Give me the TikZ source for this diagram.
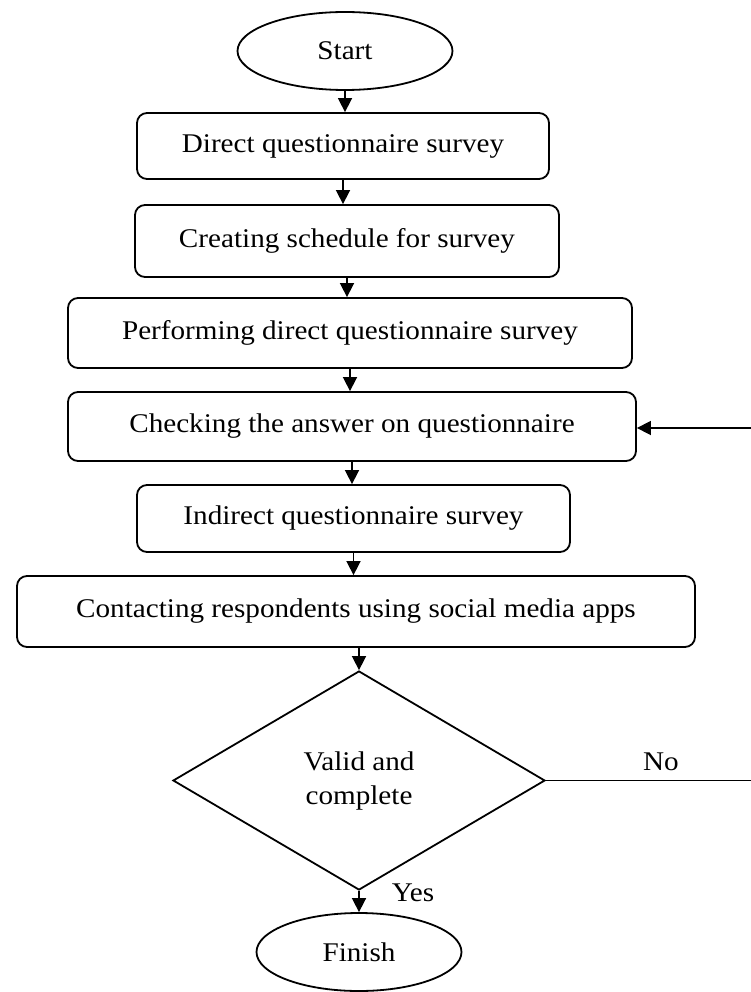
\documentclass[tikz,border=0pt]{standalone}
\usepackage{fontspec}
\setmainfont{Liberation Serif}[FakeStretch=1.08]
\usetikzlibrary{shapes.geometric,arrows.meta}
\begin{document}
\begin{tikzpicture}[x=1pt,y=1pt,
  txt/.style={font=\fontsize{27}{34}\selectfont},
  box/.style={txt, draw, line width=1.8pt, rounded corners=10pt, inner sep=0pt},
  term/.style={txt, draw, ellipse, line width=1.8pt, inner sep=0pt},
  dec/.style={txt, draw, diamond, line width=1.8pt, inner sep=0pt, align=center},
  lbl/.style={txt, inner sep=0pt},
  arr/.style={-{Triangle[length=14pt,width=14pt]}, line width=1.6pt},
  plain/.style={line width=1.2pt}]
\useasboundingbox (0,0) rectangle (751,-992);
\node[term, minimum width=215pt, minimum height=78pt] (start) at (345,-51) {Start};
\node[box, minimum width=412pt, minimum height=66pt] (b1) at (343,-146) {Direct questionnaire survey};
\node[box, minimum width=424pt, minimum height=72pt] (b2) at (347,-241) {Creating schedule for survey};
\node[box, minimum width=564pt, minimum height=70pt] (b3) at (350,-333) {Performing direct questionnaire survey};
\node[box, minimum width=568pt, minimum height=69pt] (b4) at (352,-426.5) {Checking the answer on questionnaire};
\node[box, minimum width=433pt, minimum height=67pt] (b5) at (353.5,-518.5) {Indirect questionnaire survey};
\node[box, minimum width=678pt, minimum height=71pt] (b6) at (356,-611.5) {Contacting respondents using social media apps};
\node[dec, minimum width=372pt, minimum height=219pt] (d) at (359,-780.5) {Valid and\\complete};
\node[term, minimum width=205pt, minimum height=78pt] (fin) at (359,-952) {Finish};
\node[lbl] (no) at (661,-762) {No};
\node[lbl] (yes) at (413,-893) {Yes};
\coordinate (r1) at (751,-780.5);
\coordinate (r2) at (751,-428);
\draw[arr] (start.south) -- (start.south |- b1.north);
\draw[arr] (b1.south) -- (b1.south |- b2.north);
\draw[arr] (b2.south) -- (b2.south |- b3.north);
\draw[arr] (b3.south) -- (b3.south |- b4.north);
\draw[arr] (b4.south) -- (b4.south |- b5.north);
\draw[arr] (b5.south) -- (b5.south |- b6.north);
\draw[arr] (b6.south -| d.north) -- (d.north);
\draw[arr] (d.south) -- (fin.north);
\draw[plain] (d.east) -- (r1);
\draw[arr] (r2) -- (r2 -| b4.east);
\end{tikzpicture}
\end{document}
